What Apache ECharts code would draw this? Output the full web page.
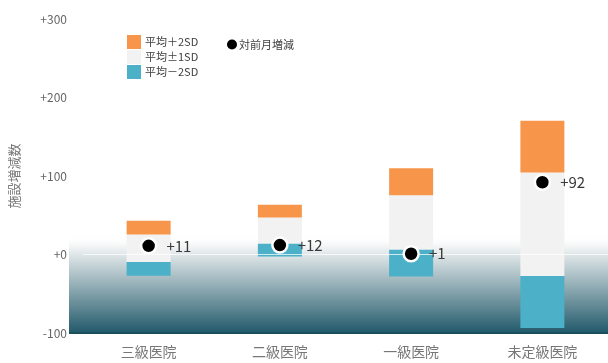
<!DOCTYPE html>
<html>
<head>
<meta charset="utf-8">
<script src="https://cdn.jsdelivr.net/npm/echarts@6/dist/echarts.min.js"></script>
<style>
  html, body { margin: 0; padding: 0; background: #fff; }
  #chart { width: 608px; height: 363px; }
</style>
</head>
<body>
<div id="chart"></div>
<script>
// Hospital grades
const categories = ['三級医院', '二級医院', '一級医院', '未定級医院'];
// Mean monthly change and its standard deviation per grade
const meanValues = [8, 30.5, 41, 38.5];
const sdValues = [17.5, 16.5, 34.5, 66];
// Change versus the previous month
const monthChange = [11, 12, 1, 92];
// Value axis ticks
const yMin = -100;
const yMax = 300;
const yInterval = 100;

const seriesNames = ['平均＋2SD', '平均±1SD', '平均－2SD', '対前月増減'];

// Band segments stacked from mean-2SD upward
const baseSeg = meanValues.map((m, i) => m - 2 * sdValues[i]);
const lowSeg = sdValues.slice();
const midSeg = sdValues.map(s => 2 * s);
const highSeg = sdValues.slice();

const FONT = '"Noto Sans CJK JP", "Noto Sans", sans-serif';

const chart = echarts.init(document.getElementById('chart'), null, { renderer: 'canvas' });

const barCommon = {
  type: 'bar',
  stack: 'band',
  stackStrategy: 'all',
  barWidth: 44,
  z: 3
};

chart.setOption({
  animation: false,
  textStyle: { fontFamily: FONT },
  grid: { left: 78, width: 534, top: 19, height: 314 },
  legend: [
    {
      data: [seriesNames[0], seriesNames[1], seriesNames[2]],
      orient: 'vertical',
      left: 122,
      top: 30,
      itemWidth: 14,
      itemHeight: 14,
      itemGap: 1,
      icon: 'rect',
      textStyle: { fontSize: 11, color: '#404040', fontFamily: FONT, padding: [0, 0, 0, -1] }
    },
    {
      data: [{ name: seriesNames[3], icon: 'circle' }],
      left: 222,
      top: 34,
      itemWidth: 10,
      itemHeight: 10,
      itemStyle: { color: '#000', borderWidth: 0 },
      textStyle: { fontSize: 11, color: '#404040', fontFamily: FONT, padding: [0, 0, 0, -3] }
    }
  ],
  xAxis: {
    type: 'category',
    data: categories,
    axisLine: { show: false },
    axisTick: { show: false },
    axisLabel: { fontSize: 14, color: '#777', margin: 12, fontFamily: FONT },
    splitLine: { show: false }
  },
  yAxis: {
    type: 'value',
    min: yMin,
    max: yMax,
    interval: yInterval,
    name: '施設増減数',
    nameLocation: 'middle',
    nameGap: 62,
    nameTextStyle: { fontSize: 13, color: '#777', fontFamily: FONT },
    axisLine: { show: false },
    axisTick: { show: false },
    splitLine: { show: false },
    axisLabel: {
      fontSize: 12,
      color: '#666',
      margin: 16,
      fontFamily: FONT,
      formatter: v => (v >= 0 ? '+' + v : String(v))
    }
  },
  series: [
    Object.assign({}, barCommon, {
      name: 'base',
      data: baseSeg,
      itemStyle: { color: 'rgba(0,0,0,0)' },
      silent: true
    }),
    Object.assign({}, barCommon, {
      name: seriesNames[2],
      data: lowSeg,
      itemStyle: { color: '#4bb0c8' }
    }),
    Object.assign({}, barCommon, {
      name: seriesNames[1],
      data: midSeg,
      itemStyle: { color: '#f2f2f2' }
    }),
    Object.assign({}, barCommon, {
      name: seriesNames[0],
      data: highSeg,
      itemStyle: { color: '#f7964a' },
      markLine: {
        silent: true,
        symbol: 'none',
        label: { show: false },
        lineStyle: { color: 'rgba(255,255,255,0.75)', width: 1, type: 'solid' },
        data: [{ yAxis: 0 }]
      }
    }),
    {
      name: seriesNames[3],
      type: 'scatter',
      data: monthChange,
      symbol: 'circle',
      symbolSize: 15,
      z: 5,
      itemStyle: { color: '#000', borderColor: '#fff', borderWidth: 2.5, opacity: 1 },
      label: {
        show: true,
        position: 'right',
        distance: 9,
        fontSize: 15,
        color: '#3a3a3a',
        fontFamily: FONT,
        formatter: p => '+' + p.value
      }
    }
  ]
});

// Shaded band below the zero region, drawn behind the bars
const yTop = chart.convertToPixel({ yAxisIndex: 0 }, 24);
const yZero = chart.convertToPixel({ yAxisIndex: 0 }, 0);
const yBottom = chart.convertToPixel({ yAxisIndex: 0 }, yMin);
const zeroStop = (yZero - yTop) / (yBottom - yTop);
chart.setOption({
  graphic: [
    {
      type: 'rect',
      z: 0,
      silent: true,
      shape: { x: 69, y: yTop, width: 608 - 69, height: yBottom - yTop },
      style: {
        fill: new echarts.graphic.LinearGradient(0, 0, 0, 1, [
          { offset: 0, color: 'rgba(255,255,255,0)' },
          { offset: zeroStop * 0.6, color: '#f1f3f4' },
          { offset: zeroStop, color: '#dfe6e8' },
          { offset: 1, color: '#21596a' }
        ])
      }
    },
    {
      type: 'line',
      z: 0,
      silent: true,
      shape: { x1: 69, y1: yBottom, x2: 608, y2: yBottom },
      style: { stroke: '#1a4f5c', lineWidth: 2 }
    }
  ]
});
</script>
</body>
</html>
